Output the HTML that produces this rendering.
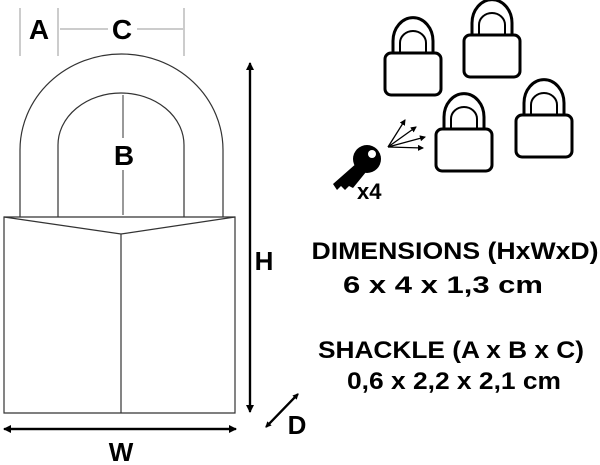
<!DOCTYPE html>
<html><head><meta charset="utf-8"><style>html,body{margin:0;padding:0;background:#fff;}svg{display:block}</style></head>
<body>
<svg width="600" height="465" viewBox="0 0 600 465" xmlns="http://www.w3.org/2000/svg" font-family="Liberation Sans, sans-serif" font-weight="bold">
<defs>
<marker id="ah" markerWidth="8" markerHeight="8" refX="7" refY="4" orient="auto" markerUnits="userSpaceOnUse"><path d="M0,0 L8,4 L0,8 z" fill="#000"/></marker>
<marker id="as" markerWidth="6" markerHeight="6" refX="5" refY="3" orient="auto" markerUnits="userSpaceOnUse"><path d="M0,0 L6,3 L0,6 z" fill="#000"/></marker>
</defs>
<g stroke="#999" stroke-width="1">
<line x1="20" y1="8" x2="20" y2="56"/><line x1="58" y1="8" x2="58" y2="56"/><line x1="184" y1="8" x2="184" y2="56"/>
<line x1="60" y1="29" x2="108" y2="29"/><line x1="137" y1="29" x2="183" y2="29"/>
</g>
<text x="39" y="39" font-size="28" text-anchor="middle">A</text>
<text x="122" y="39" font-size="28" text-anchor="middle">C</text>
<g fill="none" stroke="#333" stroke-width="1.2">
<path d="M20 217 V150 A101.5 96 0 0 1 223 150 V217"/>
<path d="M58 217 V145 A63 52 0 0 1 184 145 V217"/>
<path d="M4 217 H235 V413 H4 Z"/>
<path d="M4 217 L121 234 L235 217"/>
<line x1="121" y1="234" x2="121" y2="413"/>
</g>
<g stroke="#333" stroke-width="1"><line x1="123" y1="95" x2="123" y2="138"/><line x1="123" y1="170" x2="123" y2="215"/></g>
<text x="124" y="165" font-size="28" text-anchor="middle">B</text>
<g stroke="#000" stroke-width="2.2" fill="none">
<line x1="250" y1="410" x2="250" y2="63" marker-end="url(#ah)"/>
<line x1="250" y1="70" x2="250" y2="412" marker-end="url(#ah)"/>
<line x1="10" y1="429" x2="236" y2="429" marker-end="url(#ah)"/>
<line x1="230" y1="429" x2="4" y2="429" marker-end="url(#ah)"/>
<line x1="268" y1="425" x2="298" y2="394" marker-end="url(#as)"/>
<line x1="296" y1="396" x2="266" y2="427" marker-end="url(#as)"/>
</g>
<text x="264" y="270" font-size="26" text-anchor="middle">H</text>
<text x="121" y="461" font-size="26" text-anchor="middle">W</text>
<text x="297" y="434" font-size="26" text-anchor="middle">D</text>
<g font-size="24" text-anchor="middle">
<text x="455" y="259" textLength="287" lengthAdjust="spacingAndGlyphs">DIMENSIONS (HxWxD)</text>
<text x="443" y="293" textLength="200" lengthAdjust="spacingAndGlyphs">6 x 4 x 1,3 cm</text>
<text x="451" y="358" textLength="266" lengthAdjust="spacingAndGlyphs">SHACKLE (A x B x C)</text>
<text x="454" y="389" textLength="214" lengthAdjust="spacingAndGlyphs">0,6 x 2,2 x 2,1 cm</text>
</g>
<g fill="none" stroke="#000" stroke-width="3">
<g transform="translate(385,23)"><rect x="0" y="30" width="56" height="42" rx="6"/><path d="M8 30 V18 A12 14 0 0 1 48 18 V30"/><path d="M15 30 V20 A13 12 0 0 1 41 20 V30" stroke-width="2"/></g>
<g transform="translate(464,5)"><rect x="0" y="30" width="56" height="42" rx="6"/><path d="M8 30 V18 A12 14 0 0 1 48 18 V30"/><path d="M15 30 V20 A13 12 0 0 1 41 20 V30" stroke-width="2"/></g>
<g transform="translate(436,99)"><rect x="0" y="30" width="56" height="42" rx="6"/><path d="M8 30 V18 A12 14 0 0 1 48 18 V30"/><path d="M15 30 V20 A13 12 0 0 1 41 20 V30" stroke-width="2"/></g>
<g transform="translate(516,85)"><rect x="0" y="30" width="56" height="42" rx="6"/><path d="M8 30 V18 A12 14 0 0 1 48 18 V30"/><path d="M15 30 V20 A13 12 0 0 1 41 20 V30" stroke-width="2"/></g>
</g>
<g fill="#000">
<circle cx="367" cy="159" r="14"/>
<path d="M358 162 L333 184 L337 190 L341 186 L345 190 L349 186 L353 188 L366 172 Z"/>
</g>
<circle cx="372" cy="154" r="4" fill="#fff"/>
<text x="357" y="199" font-size="22">x4</text>
<g stroke="#000" stroke-width="1.3">
<line x1="388" y1="147" x2="405" y2="120" marker-end="url(#as)"/>
<line x1="388" y1="147" x2="416" y2="127" marker-end="url(#as)"/>
<line x1="388" y1="147" x2="425" y2="137" marker-end="url(#as)"/>
<line x1="388" y1="147" x2="423" y2="148" marker-end="url(#as)"/>
</g>
</svg>
</body></html>
